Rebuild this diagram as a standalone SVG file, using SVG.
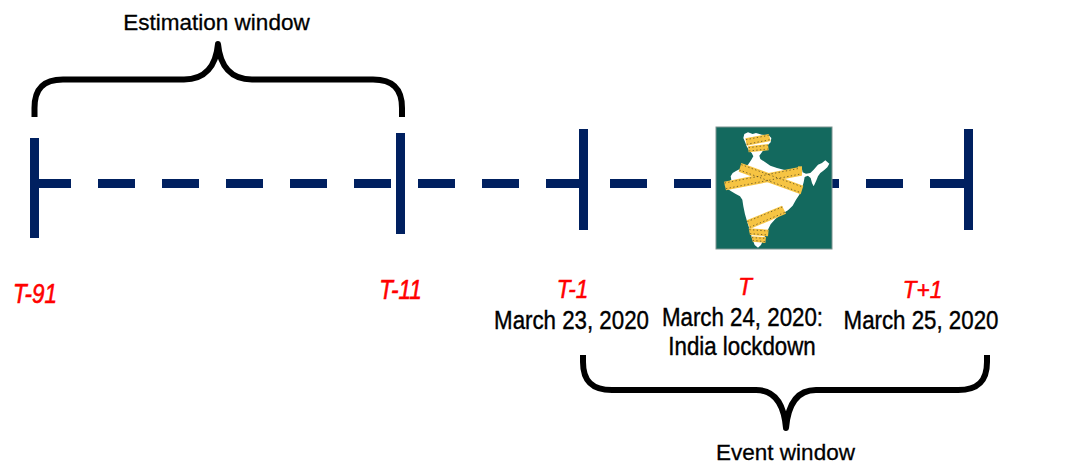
<svg xmlns="http://www.w3.org/2000/svg" width="1065" height="463" viewBox="0 0 1065 463">
  <defs>
    <style>
      .axis { stroke: #002060; stroke-width: 9; fill: none; }
      .tick { stroke: #002060; stroke-width: 9; fill: none; }
      .brace { stroke: #000000; stroke-width: 6; fill: none; stroke-linejoin: round; }
      .lbl { font-family: "Liberation Sans", Arial, sans-serif; font-size: 22.3px; fill: #000000; stroke: #000000; stroke-width: 0.35; text-anchor: middle; }
      .title { font-family: "Liberation Sans", Arial, sans-serif; font-size: 22.5px; fill: #000000; stroke: #000000; stroke-width: 0.3; text-anchor: middle; }
      .tlbl { font-family: "Liberation Sans", Arial, sans-serif; font-size: 22.5px; fill: #ff0000; stroke: #ff0000; stroke-width: 0.5; font-style: italic; text-anchor: middle; }
      .tape { fill: #f6c443; }
      .tape-edge { stroke: #3a3320; stroke-width: 2; stroke-dasharray: 4 7; fill: none; }
    </style>
  </defs>
  <rect width="1065" height="463" fill="#ffffff"/>

  <!-- dashed time axis -->
  <g id="connectors">
    <line class="axis" x1="34" y1="183.5" x2="967" y2="183.5" stroke-dasharray="37 27"/>
  </g>

  <!-- day markers -->
  <g id="tick-t91">
    <line class="tick" x1="34.5" y1="138" x2="34.5" y2="238"/>
    <text class="tlbl" transform="translate(35 303) scale(1 1.24)">T-91</text>
  </g>
  <g id="tick-t11">
    <line class="tick" x1="400.5" y1="133" x2="400.5" y2="234"/>
    <text class="tlbl" transform="translate(400.5 299) scale(1 1.2)">T-11</text>
  </g>
  <g id="tick-t1">
    <line class="tick" x1="583.5" y1="129" x2="583.5" y2="230"/>
    <text class="tlbl" transform="translate(572.5 298) scale(1 1.14)">T-1</text>
    <text class="lbl" transform="translate(571.5 329) scale(1 1.16)">March 23, 2020</text>
  </g>
  <g id="tick-t1p">
    <line class="tick" x1="968.5" y1="129" x2="968.5" y2="230"/>
    <text class="tlbl" transform="translate(922.5 297.5) scale(1 1.1)">T+1</text>
    <text class="lbl" transform="translate(921 329) scale(1 1.16)">March 25, 2020</text>
  </g>

  <!-- event day: lockdown map -->
  <g id="event-t">
    <rect x="716" y="127" width="116" height="122" fill="#13695e" stroke="#7d9490" stroke-width="1"/>
    <g transform="translate(712 123) scale(0.3333)">
      <path fill="#ffffff" d="M97,33 L108,28 L122,33 L132,30 L150,35 L170,37 L178,45 L176,58 L168,66 L160,72 L155,80 L148,90 L142,98 L145,108 L160,118 L175,128 L195,135 L215,140 L240,145 L258,147 L266,140 L268,130 L272,148 L282,152 L295,150 L305,140 L318,125 L330,120 L340,112 L352,122 L346,133 L336,142 L325,150 L318,160 L312,175 L305,190 L300,180 L296,165 L288,158 L278,162 L275,178 L270,195 L262,215 L252,230 L242,248 L228,262 L208,274 L190,288 L176,304 L166,324 L156,346 L147,366 L138,374 L128,366 L120,345 L113,320 L106,298 L99,274 L94,250 L91,230 L84,220 L70,212 L55,203 L44,195 L38,186 L50,177 L58,170 L56,160 L62,150 L72,144 L82,139 L95,132 L108,125 L118,110 L124,100 L119,90 L111,82 L104,70 L99,56 L94,45 Z"/>
      <!-- caution tape -->
      <polygon class="tape" points="100,46 170,33 176,54 104,68"/>
      <polygon class="tape" points="108,70 168,63 170,82 110,88"/>
      <polygon class="tape" points="88,120 274,188 266,214 80,146"/>
      <polygon class="tape" points="36,176 262,132 268,158 42,202"/>
      <polygon class="tape" points="258,130 270,130 270,158 258,158"/>
      <polygon class="tape" points="104,292 210,248 222,272 114,318"/>
      <polygon class="tape" points="110,316 170,320 168,340 114,336"/>
      <polygon class="tape" points="118,340 162,342 160,360 122,356"/>
      <path class="tape-edge" d="M102,50 L170,37 M104,64 L174,50 M110,74 L167,67 M111,84 L168,78 M88,125 L272,192 M82,141 L266,209 M38,180 L262,136 M42,197 L266,153 M106,296 L211,252 M113,313 L219,268 M112,320 L168,324 M114,332 L167,336 M120,344 L160,346 M122,352 L159,356"/>
    </g>
    <text class="tlbl" transform="translate(745 295) scale(1 1.1)">T</text>
    <text class="lbl" transform="translate(742.5 326) scale(1 1.16)">March 24, 2020:</text>
    <text class="lbl" transform="translate(742 355) scale(1 1.16)">India lockdown</text>
  </g>

  <!-- estimation window brace -->
  <g id="estimation-window">
    <path class="brace" d="M34.5,117 L34.5,108 C34.5,89 43,79.5 63,79.5 L184,79.5 C205,79.5 216,66 218,44 C220,66 231,79.5 252,79.5 L373,79.5 C393,79.5 402,89 402,108 L402,117"/>
    <text class="title" x="216.5" y="30">Estimation window</text>
  </g>

  <!-- event window brace -->
  <g id="event-window">
    <path class="brace" d="M583,355 L583,362 C583,381 592,390 612,390 L756,390 C775,390 784,405 786,428 C788,405 797,390 816,390 L958,390 C978,390 987,381 987,362 L987,355"/>
    <text class="title" x="785.5" y="459.5">Event window</text>
  </g>
</svg>
